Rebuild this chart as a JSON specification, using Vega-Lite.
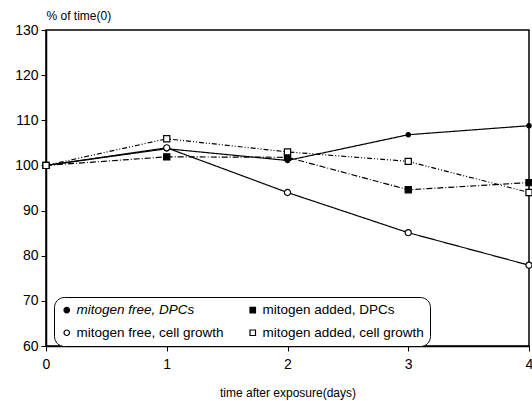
{
  "$schema": "https://vega.github.io/schema/vega-lite/v6.json",
  "autosize": {"type": "none"},
  "padding": {"left": 46, "top": 30, "right": 3, "bottom": 55},
  "width": 483,
  "height": 316,
  "background": "white",
  "config": {
    "font": "Liberation Sans",
    "view": {"stroke": "black", "strokeWidth": 1.5},
    "axis": {"grid": false, "domainColor": "black", "tickColor": "black", "labelColor": "black", "titleColor": "black", "labelFont": "Liberation Sans", "titleFont": "Liberation Sans", "domainWidth": 1.5},
    "legend": {
      "title": null, "orient": "none", "legendX": 8, "legendY": 267, "columns": 2,
      "direction": "horizontal",
      "strokeColor": "black", "cornerRadius": 10, "fillColor": "white", "padding": 6,
      "labelFontSize": 13.5, "labelFont": "Liberation Sans", "labelColor": "black",
      "symbolSize": 30, "symbolStrokeWidth": 1.2, "columnPadding": 22, "rowPadding": 8, "labelOffset": 3,
      "labelLimit": 300
    }
  },
  "data": {
    "values": [
      {"day": 0, "value": 100, "series": "mitogen free, DPCs"},
      {"day": 1, "value": 103.7, "series": "mitogen free, DPCs"},
      {"day": 2, "value": 101.1, "series": "mitogen free, DPCs"},
      {"day": 3, "value": 106.8, "series": "mitogen free, DPCs"},
      {"day": 4, "value": 108.8, "series": "mitogen free, DPCs"},
      {"day": 0, "value": 100, "series": "mitogen added, DPCs"},
      {"day": 1, "value": 101.9, "series": "mitogen added, DPCs"},
      {"day": 2, "value": 101.8, "series": "mitogen added, DPCs"},
      {"day": 3, "value": 94.6, "series": "mitogen added, DPCs"},
      {"day": 4, "value": 96.2, "series": "mitogen added, DPCs"},
      {"day": 0, "value": 100, "series": "mitogen free, cell growth"},
      {"day": 1, "value": 103.9, "series": "mitogen free, cell growth"},
      {"day": 2, "value": 94.0, "series": "mitogen free, cell growth"},
      {"day": 3, "value": 85.1, "series": "mitogen free, cell growth"},
      {"day": 4, "value": 77.9, "series": "mitogen free, cell growth"},
      {"day": 0, "value": 100, "series": "mitogen added, cell growth"},
      {"day": 1, "value": 105.9, "series": "mitogen added, cell growth"},
      {"day": 2, "value": 103.0, "series": "mitogen added, cell growth"},
      {"day": 3, "value": 100.9, "series": "mitogen added, cell growth"},
      {"day": 4, "value": 94.0, "series": "mitogen added, cell growth"}
    ]
  },
  "encoding": {
    "x": {
      "field": "day", "type": "quantitative",
      "scale": {"domain": [0, 4], "nice": false, "zero": false},
      "axis": {"values": [0, 1, 2, 3, 4], "format": "d", "title": "time after exposure(days)", "labelFontSize": 14, "titleFontSize": 12, "titleFontWeight": "normal", "labelPadding": 6, "titlePadding": 16, "tickSize": 5, "labelFlush": false}
    },
    "y": {
      "field": "value", "type": "quantitative",
      "scale": {"domain": [60, 130], "nice": false, "zero": false},
      "axis": {"values": [60, 70, 80, 90, 100, 110, 120, 130], "title": "% of time(0)", "titleAngle": 0, "titleX": 0, "titleY": -8, "titleAlign": "left", "titleBaseline": "bottom", "titleFontSize": 12, "titleFontWeight": "normal", "labelFontSize": 14, "tickSize": 5, "labelPadding": 3}
    }
  },
  "layer": [
    {
      "mark": {"type": "line", "color": "black", "strokeWidth": 1.2},
      "encoding": {
        "detail": {"field": "series"},
        "strokeDash": {
          "field": "series", "type": "nominal",
          "scale": {
            "domain": ["mitogen added, DPCs", "mitogen free, DPCs", "mitogen added, cell growth", "mitogen free, cell growth"],
            "range": [[6, 2, 1, 2], [1, 0], [5, 2, 1, 2, 1, 2], [1, 0]]
          },
          "legend": null
        }
      }
    },
    {
      "mark": {"type": "point", "strokeWidth": 1.2, "opacity": 1},
      "encoding": {
        "shape": {
          "field": "series", "type": "nominal",
          "scale": {
            "domain": ["mitogen free, DPCs", "mitogen added, DPCs", "mitogen free, cell growth", "mitogen added, cell growth"],
            "range": ["circle", "square", "circle", "square"]
          },
          "legend": {"labelFontStyle": {"expr": "datum.label == 'mitogen free, DPCs' ? 'italic' : 'normal'"}}
        },
        "fill": {
          "field": "series", "type": "nominal",
          "scale": {
            "domain": ["mitogen free, DPCs", "mitogen added, DPCs", "mitogen free, cell growth", "mitogen added, cell growth"],
            "range": ["black", "black", "white", "white"]
          },
          "legend": {"labelFontStyle": {"expr": "datum.label == 'mitogen free, DPCs' ? 'italic' : 'normal'"}}
        },
        "stroke": {
          "field": "series", "type": "nominal",
          "scale": {
            "domain": ["mitogen free, DPCs", "mitogen added, DPCs", "mitogen free, cell growth", "mitogen added, cell growth"],
            "range": ["black", "black", "black", "black"]
          },
          "legend": {"labelFontStyle": {"expr": "datum.label == 'mitogen free, DPCs' ? 'italic' : 'normal'"}}
        },
        "size": {
          "condition": {"test": "datum.series == 'mitogen free, DPCs'", "value": 18},
          "value": 38
        }
      }
    }
  ]
}
